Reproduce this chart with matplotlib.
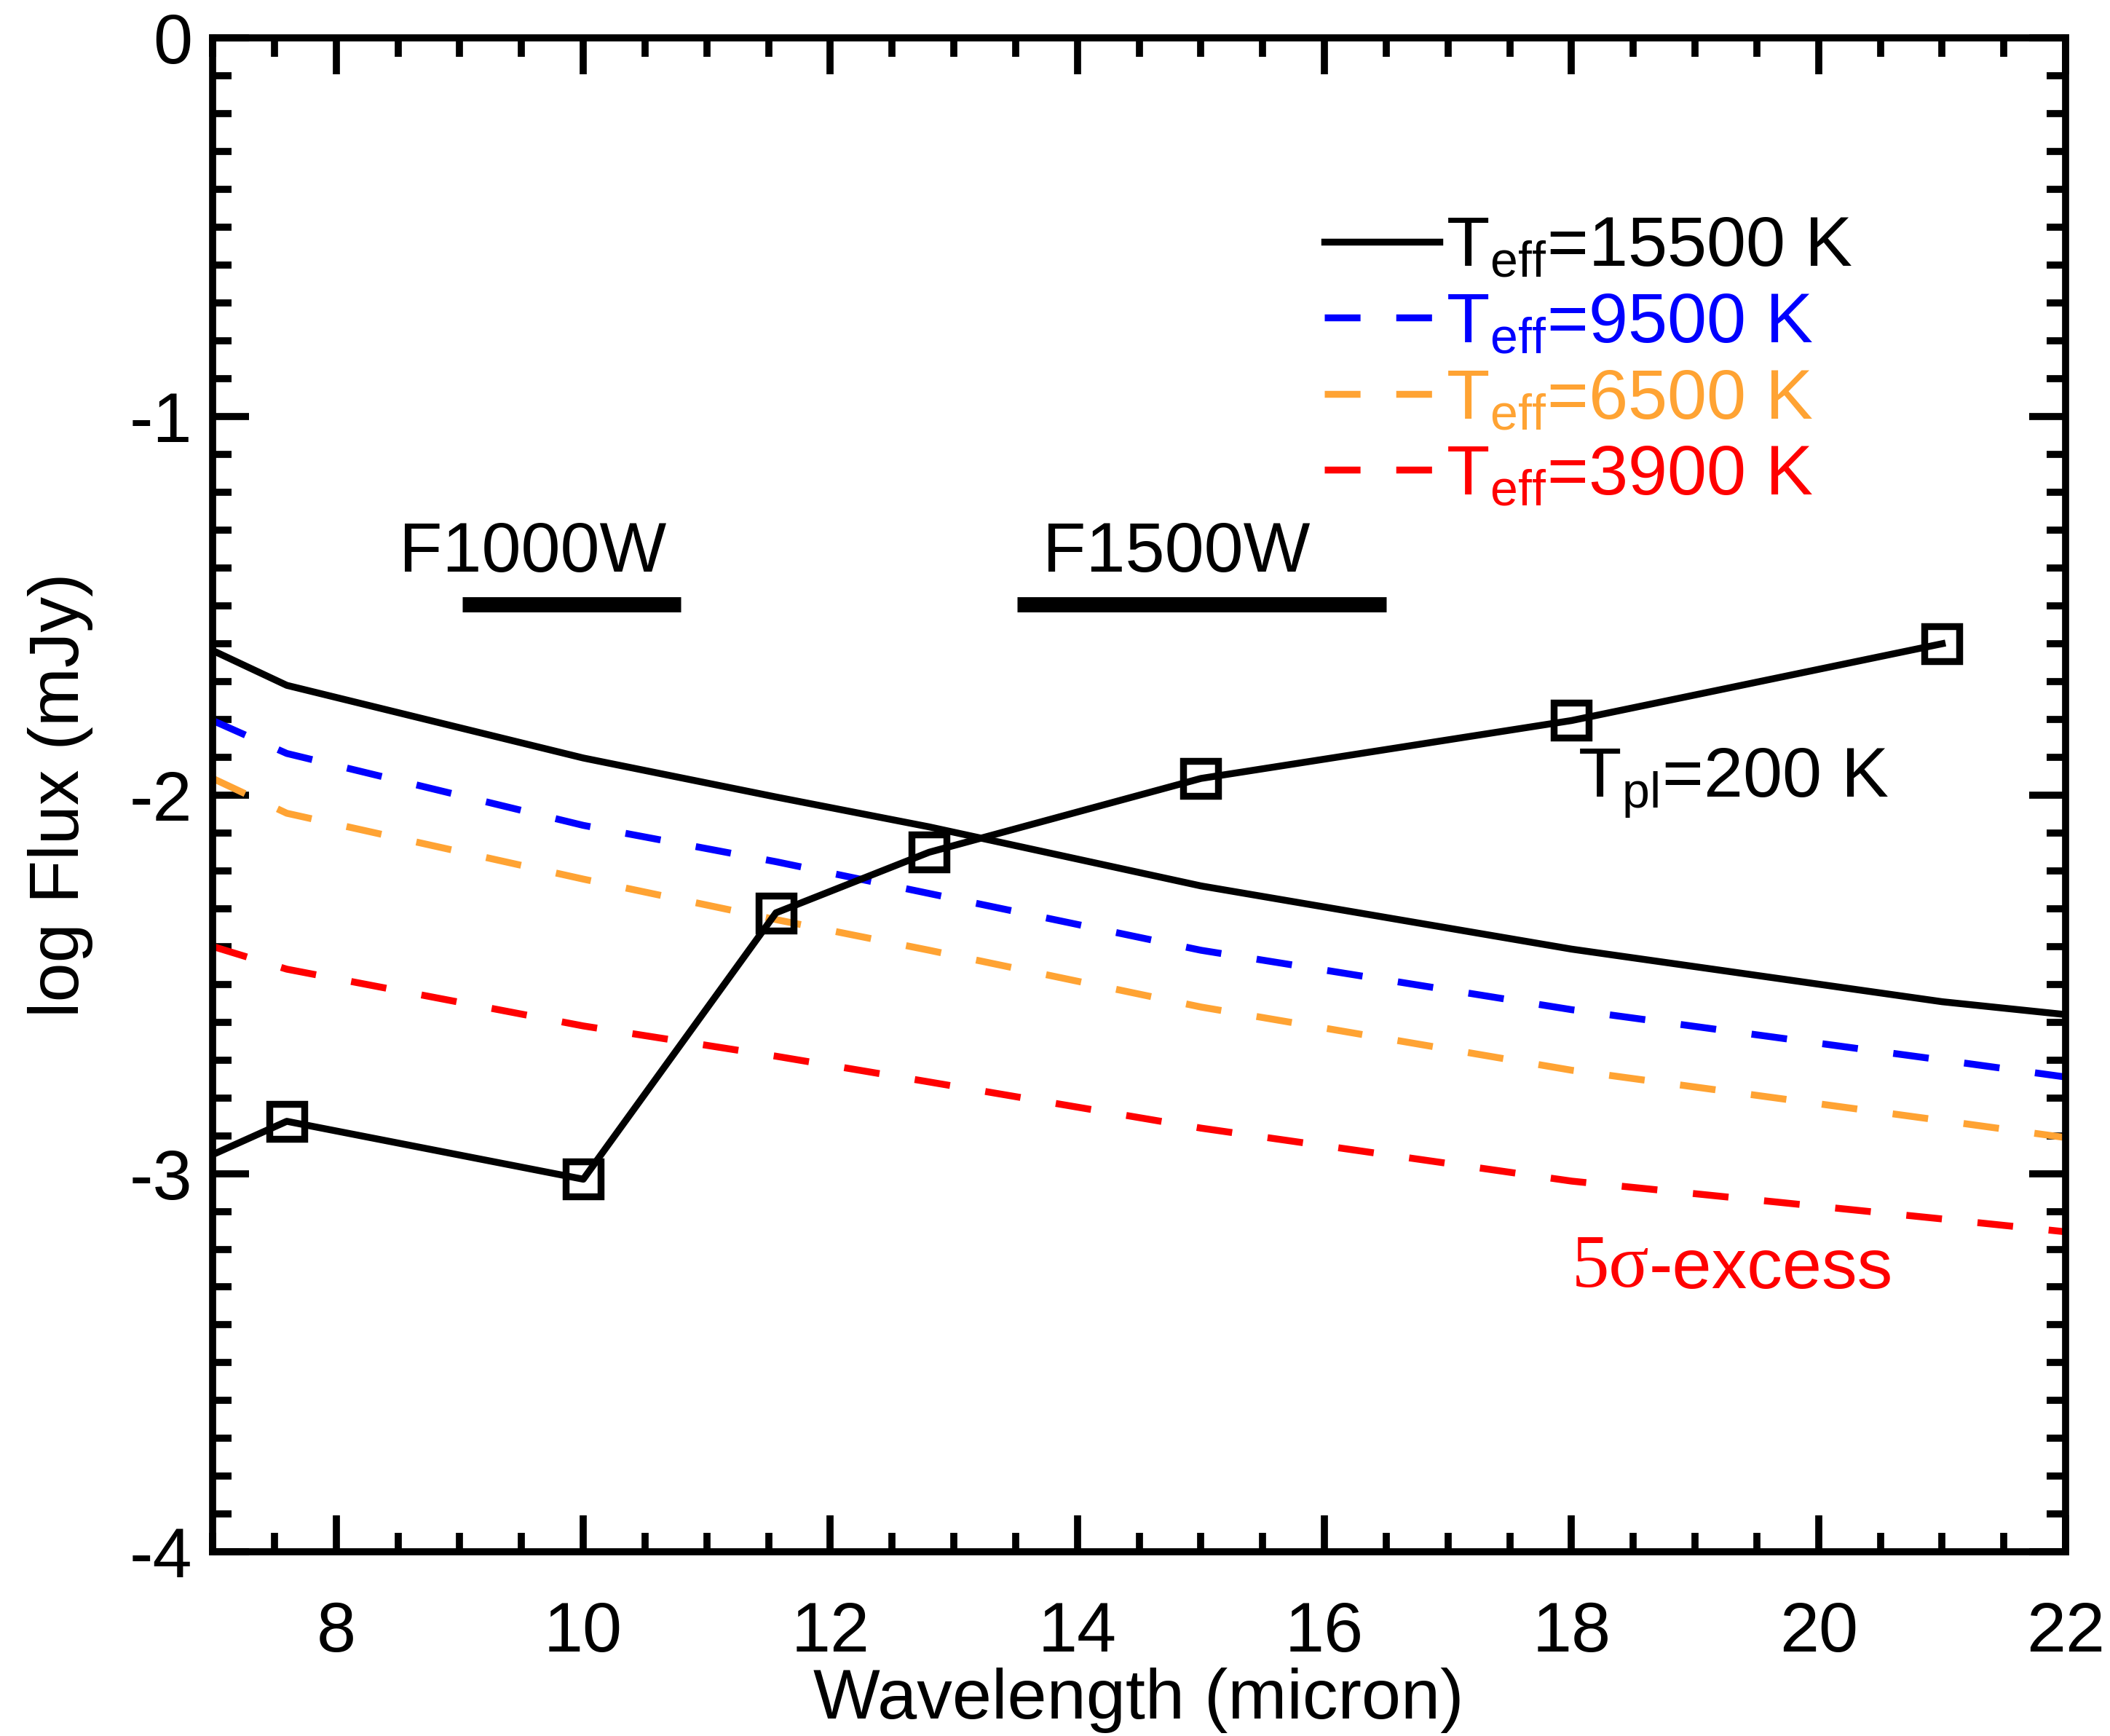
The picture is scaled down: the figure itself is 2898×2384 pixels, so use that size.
import matplotlib
matplotlib.use("Agg")
import matplotlib.pyplot as plt

plt.rcParams["font.family"] = ["Liberation Sans", "DejaVu Sans"]
plt.rcParams["mathtext.fontset"] = "custom"
plt.rcParams["mathtext.rm"] = "Liberation Sans"
plt.rcParams["mathtext.it"] = "Liberation Sans:italic"
plt.rcParams["mathtext.default"] = "regular"
plt.rcParams["axes.unicode_minus"] = False

# stellar photosphere models (log flux, mJy) on the model wavelength grid
wl_star = [7.0, 7.6, 10.0, 11.56, 12.8, 15.0, 18.0, 21.0, 22.0]
flux_15500 = [-1.618, -1.710, -1.902, -2.005, -2.084, -2.240, -2.407, -2.546, -2.580]
flux_9500 = [-1.803, -1.890, -2.080, -2.176, -2.260, -2.410, -2.567, -2.700, -2.745]
flux_6500 = [-1.956, -2.048, -2.222, -2.329, -2.410, -2.560, -2.727, -2.860, -2.905]
flux_3900 = [-2.400, -2.460, -2.610, -2.690, -2.758, -2.880, -3.020, -3.120, -3.154]

# planet (T=200 K) photometry
wl_pl = [7.0, 7.6, 10.0, 11.56, 12.8, 15.0, 18.0, 21.0]
flux_pl = [-2.950, -2.862, -3.015, -2.311, -2.151, -1.956, -1.803, -1.600]

# filter bandpasses
filters = ["F1000W", "F1500W"]
filt_lo = [9.02, 13.51]
filt_hi = [10.79, 16.50]
filt_y = -1.497
filt_label_x = [8.51, 13.72]
filt_label_y = -1.41

star_labels = ["T$_{eff}$=15500 K", "T$_{eff}$=9500 K", "T$_{eff}$=6500 K", "T$_{eff}$=3900 K"]
star_colors = ["black", "#0000ff", "#ffa333", "#ff0000"]

FS = 35
LW = 3.4
DASH = (5.2, 5.2)

fig = plt.figure(figsize=(14.49, 11.92), dpi=200)
ax = fig.add_axes([0.1008, 0.106, 0.979 - 0.1008, 0.978 - 0.106])

star_series = [flux_15500, flux_9500, flux_6500, flux_3900]
handles = []
for i, (ys, c) in enumerate(zip(star_series, star_colors)):
    if i == 0:
        ln, = ax.plot(wl_star, ys, color=c, lw=LW)
    else:
        ln, = ax.plot(wl_star, ys, color=c, lw=LW, dashes=DASH)
    handles.append(ln)

ax.plot(wl_pl, flux_pl, color="black", lw=LW, marker="s", markevery=slice(1, None),
        ms=17, mew=LW, mfc="none", mec="black")

for name, lo, hi, lx in zip(filters, filt_lo, filt_hi, filt_label_x):
    ax.plot([lo, hi], [filt_y, filt_y], color="black", lw=7.5, solid_capstyle="butt")
    ax.text(lx, filt_label_y, name, fontsize=FS, ha="left", va="baseline")

ax.text(18.05, -2.005, "T$_{pl}$=200 K", fontsize=FS, ha="left", va="baseline")

t5 = ax.text(18.0, -3.30, "5\u03c3", fontsize=37, color="#ff0000", ha="left",
             va="baseline", family=["Liberation Serif", "DejaVu Serif"])
ax.annotate("-excess", xy=(1, 0), xycoords=t5, fontsize=FS, color="#ff0000",
            ha="left", va="bottom")

leg = ax.legend(handles, star_labels, loc="upper left", bbox_to_anchor=(0.600, 0.883),
                frameon=False, fontsize=FS, handlelength=1.62, handletextpad=0.1,
                labelspacing=0.15, borderpad=0, borderaxespad=0, labelcolor="linecolor")

ax.set_xlim(7, 22)
ax.set_ylim(-4, 0)
ax.set_xticks([8, 10, 12, 14, 16, 18, 20, 22])
ax.set_xticks([x / 2 for x in range(14, 45)], minor=True)
ax.set_yticks([0, -1, -2, -3, -4])
ax.set_yticks([y / 10 for y in range(-40, 1)], minor=True)
ax.set_yticklabels(["0", "-1", "-2", "-3", "-4"])

ax.tick_params(which="both", direction="in", top=True, right=True, width=3.5,
               labelsize=FS)
ax.tick_params(which="major", length=18)
ax.tick_params(which="minor", length=9.4)
ax.tick_params(axis="x", pad=24)
ax.tick_params(axis="y", pad=10)
for sp in ax.spines.values():
    sp.set_linewidth(3.5)

ax.set_xlabel("Wavelength (micron)", fontsize=FS)
ax.set_ylabel("log Flux (mJy)", fontsize=FS)
ax.xaxis.set_label_coords(0.4998, -0.0765)
ax.yaxis.set_label_coords(-0.0646, 0.5)

fig.savefig("out.png", dpi=200, facecolor="white")
